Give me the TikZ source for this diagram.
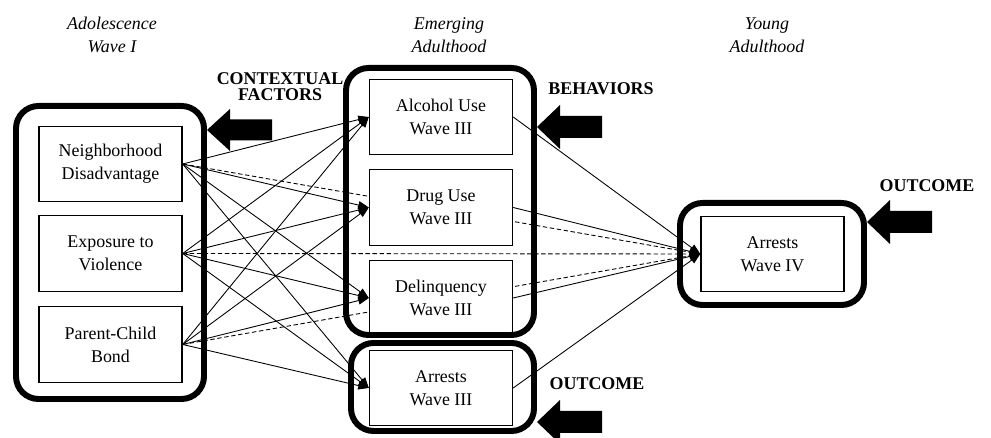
\documentclass[tikz,border=0pt]{standalone}
\usepackage{fontspec}
\setmainfont{Liberation Serif}
\usetikzlibrary{arrows.meta,backgrounds}

\tikzset{
  var/.style={draw, line width=0.8pt, fill=white, align=center, inner sep=0pt,
    minimum width=2.86cm, minimum height=1.51cm, font=\fontsize{10.2}{13.1}\selectfont},
  frame/.style={line width=3.4pt, rounded corners=0.45cm},
  path/.style={line width=0.5pt, -{Triangle[length=6pt,width=4.5pt]}},
  ns/.style={path, dash pattern=on 2.5pt off 1.5pt},
  head/.style={align=center, font=\fontsize{10.2}{13.1}\selectfont\itshape},
  tag/.style={align=center, font=\fontsize{10.2}{9.2}\selectfont\bfseries},
}

\begin{document}
\begin{tikzpicture}
\clip (0,0) rectangle (19.82,8.76);
\node[head] (ado) at (2.240,8.060) {Adolescence\\Wave I};
\node[head] (emg) at (8.980,8.060) {Emerging\\Adulthood};
\node[head] (yng) at (15.340,8.060) {Young\\Adulthood};
\node[tag] (ctx) at (5.600,7.020) {CONTEXTUAL\\FACTORS};
\node[tag] (beh) at (12.020,6.980) {BEHAVIORS};
\node[tag] (out4) at (18.540,5.040) {OUTCOME};
\node[tag] (out3) at (11.940,1.080) {OUTCOME};
\node[var] (nd) at (2.210,5.480) {Neighborhood\\Disadvantage};
\node[var] (ev) at (2.210,3.690) {Exposure to\\Violence};
\node[var] (pc) at (2.210,1.870) {Parent-Child\\Bond};
\node[var] (alc) at (8.820,6.420) {Alcohol Use\\Wave III};
\node[var] (drug) at (8.820,4.610) {Drug Use\\Wave III};
\node[var] (del) at (8.820,2.800) {Delinquency\\Wave III};
\node[var] (arr3) at (8.820,1.000) {Arrests\\Wave III};
\node[var] (arr4) at (15.450,3.680) {Arrests\\Wave IV};
\begin{scope}[on background layer]
\draw[path] (nd.east) -- (alc.west);
\draw[path] (nd.east) -- (drug.west);
\draw[path] (nd.east) -- (del.west);
\draw[path] (nd.east) -- (arr3.west);
\draw[path] (ev.east) -- (alc.west);
\draw[path] (ev.east) -- (drug.west);
\draw[path] (ev.east) -- (del.west);
\draw[path] (ev.east) -- (arr3.west);
\draw[path] (pc.east) -- (alc.west);
\draw[path] (pc.east) -- (drug.west);
\draw[path] (pc.east) -- (del.west);
\draw[path] (pc.east) -- (arr3.west);
\draw[ns] (nd.east) -- (arr4.west);
\draw[ns] (ev.east) -- (arr4.west);
\draw[ns] (pc.east) -- (arr4.west);
\draw[path] (alc.east) -- (arr4.west);
\draw[path] (drug.east) -- (arr4.west);
\draw[path] (del.east) -- (arr4.west);
\draw[path] (arr3.east) -- (arr4.west);
\end{scope}
\draw[frame] (0.320,0.780) rectangle (4.080,6.640);
\draw[frame] (6.920,2.060) rectangle (10.680,7.400);
\draw[frame] (7.020,0.140) rectangle (10.680,1.900);
\draw[frame] (13.600,2.660) rectangle (17.280,4.700);
\fill (4.140,6.160) -- ++(0.46,0.42) -- ++(0,-0.21) -- ++(0.84,0) -- ++(0,-0.42) -- ++(-0.84,0) -- ++(0,-0.21) -- cycle;
\fill (10.740,6.220) -- ++(0.46,0.44) -- ++(0,-0.22) -- ++(0.84,0) -- ++(0,-0.44) -- ++(-0.84,0) -- ++(0,-0.22) -- cycle;
\fill (10.740,0.320) -- ++(0.46,0.44) -- ++(0,-0.22) -- ++(0.84,0) -- ++(0,-0.44) -- ++(-0.84,0) -- ++(0,-0.22) -- cycle;
\fill (17.340,4.320) -- ++(0.46,0.44) -- ++(0,-0.22) -- ++(0.84,0) -- ++(0,-0.44) -- ++(-0.84,0) -- ++(0,-0.22) -- cycle;
\end{tikzpicture}
\end{document}
